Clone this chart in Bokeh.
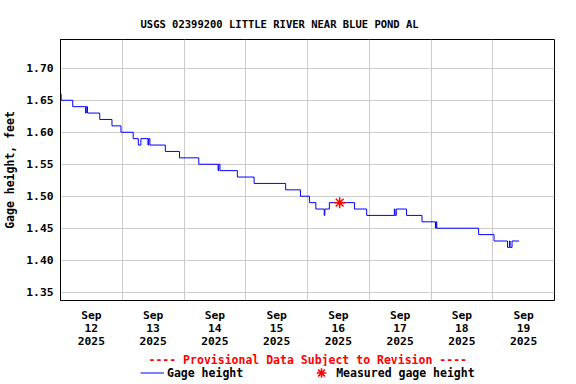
import pandas as pd
from bokeh.plotting import figure
from bokeh.layouts import column
from bokeh.models import (Range1d, FixedTicker, NumeralTickFormatter, Title,
                          Legend, LegendItem, ColumnDataSource)
from bokeh.embed import file_html
from bokeh.resources import INLINE

# ---------------- data ----------------
title_text = "USGS 02399200 LITTLE RIVER NEAR BLUE POND AL"
provisional_text = "---- Provisional Data Subject to Revision ----"
series_label = "Gage height"
measured_label = "Measured gage height"

gage_times = [
    "2025-09-12 00:00", "2025-09-12 00:15", "2025-09-12 04:45", "2025-09-12 09:45",
    "2025-09-12 10:00", "2025-09-12 10:30", "2025-09-12 15:15", "2025-09-12 20:00",
    "2025-09-12 23:30", "2025-09-13 04:15", "2025-09-13 06:15", "2025-09-13 07:15",
    "2025-09-13 10:00", "2025-09-13 10:15", "2025-09-13 10:45", "2025-09-13 16:45",
    "2025-09-13 22:15", "2025-09-14 05:45", "2025-09-14 13:15", "2025-09-14 13:30",
    "2025-09-14 14:00", "2025-09-14 20:45", "2025-09-15 03:15", "2025-09-15 15:30",
    "2025-09-15 21:15", "2025-09-16 00:45", "2025-09-16 03:15", "2025-09-16 06:30",
    "2025-09-16 06:45", "2025-09-16 08:30", "2025-09-16 18:15", "2025-09-16 23:00",
    "2025-09-17 09:45", "2025-09-17 10:00", "2025-09-17 10:30", "2025-09-17 14:30",
    "2025-09-17 20:30", "2025-09-18 01:45", "2025-09-18 02:00", "2025-09-18 02:15",
    "2025-09-18 18:30", "2025-09-19 00:30", "2025-09-19 05:45", "2025-09-19 06:30",
    "2025-09-19 06:45", "2025-09-19 07:30", "2025-09-19 10:15",
]
gage_values = [
    1.66, 1.65, 1.64, 1.63,
    1.64, 1.63, 1.62, 1.61,
    1.60, 1.59, 1.58, 1.59,
    1.58, 1.59, 1.58, 1.57,
    1.56, 1.55, 1.54, 1.55,
    1.54, 1.53, 1.52, 1.51,
    1.50, 1.49, 1.48, 1.47,
    1.48, 1.49, 1.48, 1.47,
    1.48, 1.47, 1.48, 1.47,
    1.46, 1.45, 1.46, 1.45,
    1.44, 1.43, 1.42, 1.43,
    1.42, 1.43, 1.43,
]

measured_times = ["2025-09-16 12:30"]
measured_values = [1.49]

x_start, x_end = "2025-09-12 00:00", "2025-09-20 00:00"
y_start, y_end = 1.337, 1.745
y_ticks = [1.35, 1.40, 1.45, 1.50, 1.55, 1.60, 1.65, 1.70]

tick_dates = ["2025-09-12 12:00", "2025-09-13 12:00", "2025-09-14 12:00", "2025-09-15 12:00",
              "2025-09-16 12:00", "2025-09-17 12:00", "2025-09-18 12:00", "2025-09-19 12:00"]
tick_labels = ["Sep\n12\n2025", "Sep\n13\n2025", "Sep\n14\n2025", "Sep\n15\n2025",
               "Sep\n16\n2025", "Sep\n17\n2025", "Sep\n18\n2025", "Sep\n19\n2025"]
grid_dates = ["2025-09-12", "2025-09-13", "2025-09-14", "2025-09-15", "2025-09-16",
              "2025-09-17", "2025-09-18", "2025-09-19", "2025-09-20"]

FONT = "DejaVu Sans Mono"
LINE_COLOR = "#0000ff"
MEAS_COLOR = "red"


def ms(s):
    return int(pd.Timestamp(s).value // 10**6)


gage_src = ColumnDataSource(dict(t=pd.to_datetime(gage_times), v=gage_values))
meas_src = ColumnDataSource(dict(t=pd.to_datetime(measured_times), v=measured_values))

# ---------------- main chart ----------------
p = figure(width=576, height=366, x_axis_type="datetime",
           x_range=Range1d(ms(x_start), ms(x_end)), y_range=Range1d(y_start, y_end),
           output_backend="svg", toolbar_location=None,
           min_border_left=58, min_border_right=22, min_border_top=39, min_border_bottom=66)

p.background_fill_color = "white"
p.border_fill_color = "white"
p.outline_line_color = "black"
p.outline_line_width = 1

p.title.text = title_text
p.title.align = "left"
p.title.offset = 80
p.title.standoff = 19
p.title.text_font = FONT
p.title.text_font_size = "10.5px"
p.title.text_font_style = "bold"
p.title.text_color = "black"

p.step("t", "v", source=gage_src, mode="after", line_color=LINE_COLOR, line_width=1)
p.scatter("t", "v", source=meas_src, marker="asterisk", size=11,
          line_color=MEAS_COLOR, line_width=1.5)

xa = p.xaxis[0]
xa.ticker = FixedTicker(ticks=[ms(d) for d in tick_dates])
xa.major_label_overrides = {ms(d): lab for d, lab in zip(tick_dates, tick_labels)}
xa.major_label_text_font = FONT
xa.major_label_text_font_size = "11.3px"
xa.major_label_text_font_style = "bold"
xa.major_label_text_color = "black"
xa.major_label_text_line_height = 1.0
xa.major_label_standoff = 8
xa.major_tick_line_color = None
xa.minor_tick_line_color = None
xa.major_tick_out = 0
xa.major_tick_in = 0
xa.axis_line_color = "black"

ya = p.yaxis[0]
ya.ticker = FixedTicker(ticks=y_ticks)
ya.formatter = NumeralTickFormatter(format="0.00")
ya.axis_label = "Gage height, feet"
ya.axis_label_text_font = FONT
ya.axis_label_text_font_size = "11.5px"
ya.axis_label_text_font_style = "bold"
ya.axis_label_text_color = "black"
ya.axis_label_standoff = 6
ya.major_label_text_font = FONT
ya.major_label_text_font_size = "11.3px"
ya.major_label_text_font_style = "bold"
ya.major_label_text_color = "black"
ya.major_label_standoff = 7
ya.major_tick_line_color = None
ya.minor_tick_line_color = None
ya.major_tick_out = 0
ya.major_tick_in = 0
ya.axis_line_color = "black"

p.xgrid.ticker = FixedTicker(ticks=[ms(d) for d in grid_dates])
p.xgrid.grid_line_color = "#cccccc"
p.ygrid.ticker = FixedTicker(ticks=y_ticks)
p.ygrid.grid_line_color = "#cccccc"

prov = Title(text=provisional_text, align="left", offset=88, standoff=0,
             text_color="red", text_font=FONT, text_font_size="11.5px",
             text_font_style="bold")
p.add_layout(prov, "below")

# ---------------- legend strip ----------------
# (its frame is aligned with the main chart's frame by the column layout)
p2 = figure(width=576, height=18, output_backend="svg", toolbar_location=None,
            x_range=Range1d(0, 1), y_range=Range1d(0, 1),
            x_axis_location=None, y_axis_location=None,
            min_border_left=0, min_border_right=0, min_border_top=0, min_border_bottom=0)
p2.grid.visible = False
p2.outline_line_color = None
p2.background_fill_color = "white"
p2.border_fill_color = "white"

# legend keys: same series, drawn outside this strip's ranges so only the keys show
key_line = p2.line("t", "v", source=gage_src, line_color=LINE_COLOR, line_width=1)
key_meas = p2.scatter("t", "v", source=meas_src, marker="asterisk",
                      line_color=MEAS_COLOR, line_width=1.5)

legend = Legend(items=[LegendItem(label=series_label, renderers=[key_line]),
                       LegendItem(label=measured_label, renderers=[key_meas])],
                orientation="horizontal", location=(80, -1),
                border_line_color=None, background_fill_alpha=0,
                padding=0, margin=0, spacing=66,
                glyph_width=24, glyph_height=25, label_standoff=3, label_height=12,
                label_text_font=FONT, label_text_font_size="11.5px",
                label_text_font_style="bold", label_text_color="black")
p2.add_layout(legend)

layout = column(p, p2, spacing=0)
open("out.html", "w").write(file_html(layout, INLINE))
